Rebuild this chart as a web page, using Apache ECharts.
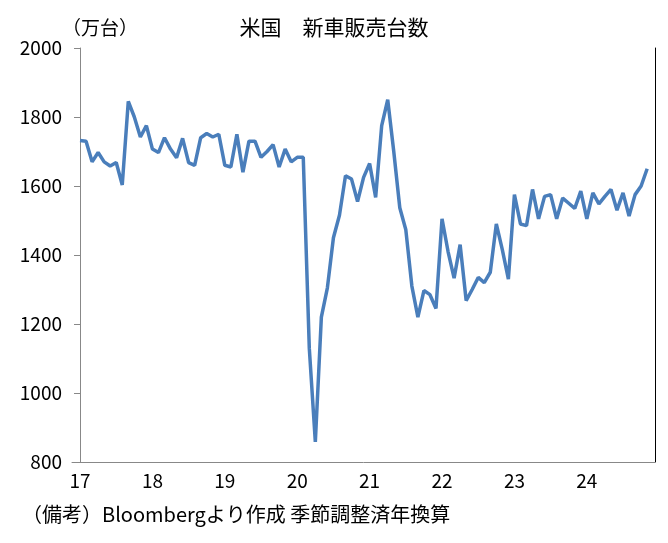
<!DOCTYPE html>
<html><head><meta charset="utf-8">
<script src="https://cdn.jsdelivr.net/npm/echarts@6/dist/echarts.min.js"></script>
<style>html,body{margin:0;padding:0;background:#fff}#c{width:668px;height:543px}</style>
</head><body><div id="c"></div>
<script>
const yearLabels = ['17','18','19','20','21','22','23','24'];
const sales = [
1732,1730,1670,1697,1670,1658,1668,1603,1845,1800,1742,1775,
1707,1697,1740,1707,1682,1738,1668,1660,1740,1752,1742,1750,
1660,1655,1750,1640,1730,1730,1683,1700,1720,1655,1707,1670,
1683,1683,1130,858,1220,1305,1450,1515,1630,1620,1555,1625,
1665,1567,1775,1850,1700,1537,1473,1310,1220,1297,1285,1245,
1505,1410,1333,1430,1268,1300,1335,1320,1350,1490,1415,1330,
1575,1490,1485,1590,1505,1570,1575,1505,1565,1550,1535,1585,
1505,1580,1548,1570,1590,1530,1580,1513,1575,1600,1650];
const font = '"Noto Sans CJK JP", sans-serif';
const chart = echarts.init(document.getElementById('c'));
chart.setOption({
  animation:false,
  title:{text:'米国　新車販売台数',left:'center',top:12,textStyle:{fontFamily:font,fontSize:21,fontWeight:'normal',color:'#000'}},
  graphic:[
    {type:'text',left:62,top:18,style:{text:'（万台）',font:'19px '+font,fill:'#000'}},
    {type:'text',left:22,top:504,style:{text:'（備考）Bloombergより作成 季節調整済年換算',font:'20px '+font,fill:'#000'}}
  ],
  grid:{left:72,right:13,top:48,bottom:81},
  xAxis:{type:'value',min:-1.33,max:95.3,
    axisLine:{show:true,onZero:false,lineStyle:{color:'#888'}},axisTick:{show:false},splitLine:{show:false},
    axisLabel:{customValues:[0,12,24,36,48,60,72,84],formatter:v=>yearLabels[Math.round(v/12)],fontFamily:font,fontSize:19,color:'#000',margin:9}},
  yAxis:[{type:'value',min:800,max:2000,interval:200,
    axisLine:{show:true,lineStyle:{color:'#888'}},axisTick:{show:true,length:6,lineStyle:{color:'#888'}},splitLine:{show:false},
    axisLabel:{formatter:v=>String(v),fontFamily:font,fontSize:19,color:'#000',margin:10}},
   {type:'value',min:800,max:2000,position:'right',axisLine:{show:true,lineStyle:{color:'#000'}},axisTick:{show:false},axisLabel:{show:false},splitLine:{show:false}}],
  series:[{type:'line',data:sales.map((v,i)=>[i,v]),showSymbol:false,lineStyle:{color:'#4a7ebb',width:3.5},itemStyle:{color:'#4a7ebb'}}]
});
</script></body></html>
